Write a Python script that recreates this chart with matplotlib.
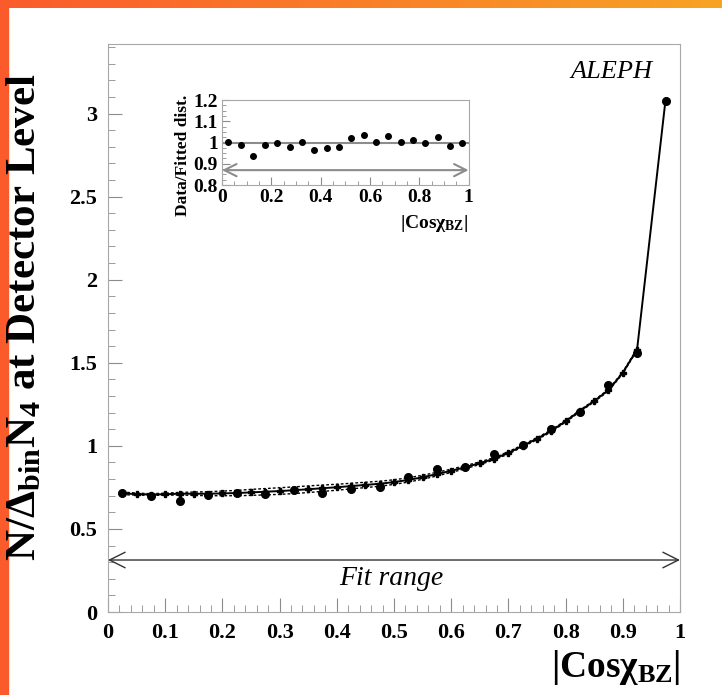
import numpy as np
import matplotlib.pyplot as plt
from matplotlib.patches import Rectangle
from matplotlib.ticker import MultipleLocator

plt.rcParams['font.family'] = ['Liberation Serif', 'DejaVu Serif']
plt.rcParams['mathtext.fontset'] = 'custom'
plt.rcParams['mathtext.rm'] = 'Liberation Serif:bold'
plt.rcParams['mathtext.it'] = 'Liberation Serif:bold'
plt.rcParams['mathtext.bf'] = 'Liberation Serif:bold'

# data points at the 20 bin centres
bin_x = [0.025, 0.075, 0.125, 0.175, 0.225, 0.275, 0.325, 0.375, 0.425, 0.475,
         0.525, 0.575, 0.625, 0.675, 0.725, 0.775, 0.825, 0.875, 0.925, 0.975]
data_y = [0.717, 0.699, 0.668, 0.703, 0.715, 0.709, 0.734, 0.719, 0.740, 0.754,
          0.811, 0.859, 0.875, 0.951, 1.004, 1.103, 1.205, 1.365, 1.556, 3.078]

# fitted distribution, finer steps
fit_x = [0.025, 0.05, 0.075, 0.1, 0.125, 0.15, 0.175, 0.2, 0.225, 0.25,
         0.275, 0.3, 0.325, 0.35, 0.375, 0.4, 0.425, 0.45, 0.475, 0.5,
         0.525, 0.55, 0.575, 0.6, 0.625, 0.65, 0.675, 0.7, 0.725, 0.75,
         0.775, 0.8, 0.825, 0.85, 0.875, 0.9, 0.925, 0.975]
fit_y = [0.714, 0.710, 0.707, 0.709, 0.712, 0.712, 0.712, 0.714, 0.716, 0.720,
         0.724, 0.728, 0.733, 0.739, 0.745, 0.751, 0.758, 0.765, 0.772, 0.782,
         0.795, 0.811, 0.830, 0.850, 0.872, 0.896, 0.922, 0.958, 1.000, 1.043,
         1.090, 1.148, 1.210, 1.270, 1.335, 1.440, 1.580, 3.090]
fit_err = [0.008, 0.006, 0.005, 0.006, 0.008, 0.010, 0.012, 0.014, 0.016, 0.018,
           0.019, 0.020, 0.020, 0.020, 0.019, 0.018, 0.017, 0.016, 0.015, 0.014,
           0.013, 0.012, 0.011, 0.010, 0.009, 0.008, 0.007, 0.007, 0.006, 0.006,
           0.006, 0.005, 0.005, 0.005, 0.005, 0.005, 0.005, 0.005]

# ratio data / fitted distribution
ratio = [1.004, 0.988, 0.938, 0.988, 0.999, 0.979, 1.001, 0.965, 0.976, 0.977,
         1.020, 1.035, 1.004, 1.031, 1.004, 1.012, 0.996, 1.025, 0.985, 0.996]
ratio_err = [0.008, 0.008, 0.010, 0.010, 0.012, 0.012, 0.010, 0.010, 0.010, 0.010,
             0.010, 0.010, 0.010, 0.010, 0.008, 0.008, 0.008, 0.008, 0.006, 0.006]

fig = plt.figure(figsize=(7.22, 6.95), dpi=100)

# slide background stripes
fig.add_artist(Rectangle((0, 0), 0.011, 1, transform=fig.transFigure,
                         color='#fb5b2b', zorder=0))
grad = np.linspace(0, 1, 256).reshape(1, -1)
bg = fig.add_axes([0, 0.988, 1, 0.012])
bg.imshow(grad, aspect='auto', cmap=plt.matplotlib.colors.LinearSegmentedColormap.from_list(
    'o', ['#fb5b2b', '#f7a325']))
bg.axis('off')

gray = '#8c8c8c'
ax = fig.add_axes([0.1496, 0.1194, 0.7922, 0.8176])
x = np.array(fit_x)
y = np.array(fit_y)
e = np.array(fit_err)
ax.plot(x, y, '-', color='black', lw=1.4)
ax.plot(x[:-1], y[:-1], 'P', color='black', ms=4.5)
ax.plot(x[:-1], (y + e)[:-1], '--', color='black', lw=1.0, dashes=(2, 1.5))
ax.plot(x[:-1], (y - e)[:-1], '--', color='black', lw=1.0, dashes=(2, 1.5))
ax.plot(bin_x, data_y, 'o', color='black', ms=5.5)

ax.annotate('', xy=(0, 0.313), xytext=(1, 0.313),
            arrowprops=dict(arrowstyle='<->', color='#333333', lw=1.0,
                            mutation_scale=28, shrinkA=0, shrinkB=0))
ax.text(0.495, 0.2, 'Fit range', style='italic', fontsize=20,
        ha='center', va='center')
ax.text(0.88, 3.25, 'ALEPH', style='italic', fontsize=19,
        ha='center', va='center')

ax.set_xlim(0, 1)
ax.set_ylim(0, 3.42)
ax.xaxis.set_minor_locator(MultipleLocator(0.02))
ax.yaxis.set_minor_locator(MultipleLocator(0.1))
ax.tick_params(which='both', direction='in', color=gray, top=False, right=False)
ax.tick_params(which='major', length=10, labelsize=16, pad=8)
ax.tick_params(which='minor', length=5)
for s in ax.spines.values():
    s.set_color('#a8a8a8')
ax.set_xticks(np.arange(0, 1.01, 0.1))
ax.set_xticklabels(['0', '0.1', '0.2', '0.3', '0.4', '0.5', '0.6', '0.7',
                    '0.8', '0.9', '1'], fontweight='bold')
ax.set_yticks([0, 0.5, 1, 1.5, 2, 2.5, 3])
ax.set_yticklabels(['0', '0.5', '1', '1.5', '2', '2.5', '3'], fontweight='bold')

fig.text(0.035, 0.544, r'$\mathrm{N/\Delta_{bin}N_4}$ at Detector Level',
         rotation=90, fontsize=31, fontweight='bold', ha='center', va='center')
fig.text(0.942, 0.04, r'$|\mathrm{Cos}\chi_{BZ}|$', fontsize=27,
         ha='right', va='center')

# inset: ratio
ins = fig.add_axes([0.3075, 0.7338, 0.3415, 0.1223])
ins.errorbar(bin_x, ratio, yerr=ratio_err, fmt='o', color='black', ms=4,
             elinewidth=0.8, capsize=0)
ins.axhline(1.0, color=gray, lw=1.5)
ins.annotate('', xy=(0, 0.87), xytext=(1, 0.87),
             arrowprops=dict(arrowstyle='<->', color=gray, lw=1.5,
                             mutation_scale=22, shrinkA=0, shrinkB=0))
ins.set_xlim(0, 1)
ins.set_ylim(0.8, 1.2)
ins.xaxis.set_minor_locator(MultipleLocator(0.05))
ins.yaxis.set_minor_locator(MultipleLocator(0.025))
ins.tick_params(which='both', direction='in', color=gray, top=False, right=False)
ins.tick_params(which='major', length=6, labelsize=14, pad=3)
ins.tick_params(which='minor', length=3)
for s in ins.spines.values():
    s.set_color('#a8a8a8')
ins.set_xticks([0, 0.2, 0.4, 0.6, 0.8, 1.0])
ins.set_xticklabels(['0', '0.2', '0.4', '0.6', '0.8', '1'], fontweight='bold')
ins.set_yticks([0.8, 0.9, 1.0, 1.1, 1.2])
ins.set_yticklabels(['0.8', '0.9', '1', '1.1', '1.2'], fontweight='bold')
ins.set_ylabel('Data/Fitted dist.', fontsize=12.5, fontweight='bold')
ins.yaxis.set_label_coords(-0.125, 0.35)
ins.text(1.0, -0.45, r'$|\mathrm{Cos}\chi_{BZ}|$', transform=ins.transAxes,
         fontsize=14, ha='right', va='center')

fig.savefig('out.png', dpi=100)
